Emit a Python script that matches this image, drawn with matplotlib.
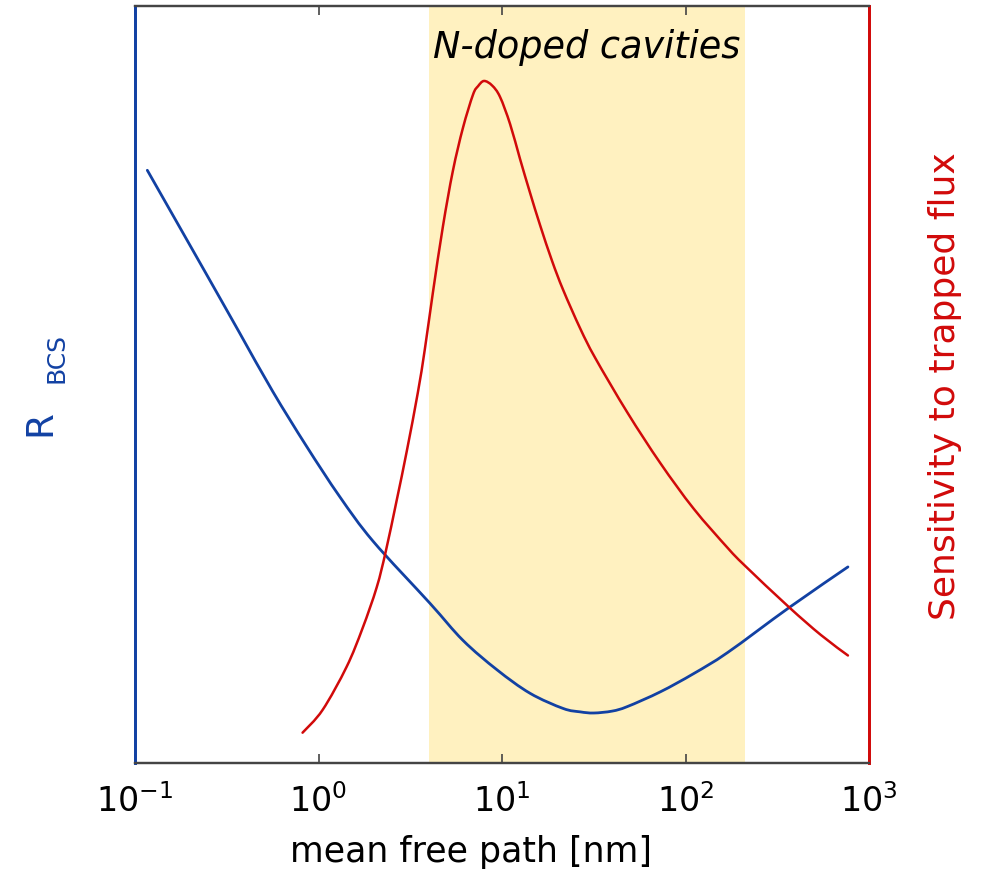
import matplotlib
matplotlib.use("Agg")
import matplotlib.pyplot as plt
from matplotlib.path import Path
from matplotlib.patches import PathPatch
import numpy as np

plt.rcParams['font.family'] = ['DejaVu Sans']
plt.rcParams['mathtext.fontset'] = 'dejavusans'

# Blue curve: R_BCS vs mean free path; x given as log10(mean free path / nm), y in arbitrary units (0-100)
blue_logx = [-0.933, -0.614, -0.432, -0.250, -0.067, 0.115, 0.297, 0.607, 0.787,
             0.973, 1.153, 1.333, 1.426, 1.500, 1.600, 1.683, 1.863, 2.044, 2.230,
             2.563, 2.885]
blue_y = [78.3, 64.7, 56.9, 49.1, 41.9, 35.2, 29.3, 21.1, 16.2,
          12.3, 9.2, 7.2, 6.75, 6.6, 6.85, 7.45, 9.4, 11.8, 14.6,
          20.5, 25.9]

# Red curve: sensitivity to trapped flux
red_logx = [-0.087, 0.022, 0.153, 0.240, 0.317, 0.366, 0.426, 0.481, 0.541, 0.579, 0.623,
            0.678, 0.732, 0.787, 0.842, 0.869, 0.902, 0.946, 0.989, 1.044, 1.098, 1.153,
            1.208, 1.273, 1.333, 1.426, 1.508, 1.683, 1.863, 2.044, 2.230, 2.322, 2.563,
            2.738, 2.885]
red_y = [4.0, 7.0, 12.7, 17.8, 23.2, 27.9, 34.7, 41.2, 48.9, 54.6, 62.1,
         70.9, 78.2, 83.9, 88.3, 89.4, 90.1, 89.5, 88.0, 84.4, 79.8, 75.3,
         71.0, 66.3, 62.5, 57.4, 53.5, 46.3, 39.6, 33.6, 28.4, 26.1, 20.6,
         16.9, 14.2]

band = (4.0, 210)
x_ticks = [0.1, 1, 10, 100, 1000]
x_ticklabels = [r'$10^{-1}$', r'$10^{0}$', r'$10^{1}$', r'$10^{2}$', r'$10^{3}$']

blue = '#1241a3'
red = '#d10a0a'
band_color = '#fff1c0'
gray = '#444444'


def smooth_path(logx, y):
    """Bezier path passing through every read point (Catmull-Rom tangents)."""
    P = np.column_stack([np.asarray(logx, float), np.asarray(y, float)])
    Pe = np.vstack([P[0], P, P[-1]])
    verts = [P[0]]
    codes = [Path.MOVETO]
    for i in range(len(P) - 1):
        p0, p1, p2, p3 = Pe[i], Pe[i + 1], Pe[i + 2], Pe[i + 3]
        c1 = p1 + (p2 - p0) / 6.0
        c2 = p2 - (p3 - p1) / 6.0
        verts += [c1, c2, p2]
        codes += [Path.CURVE4] * 3
    V = np.array(verts)
    V[:, 0] = 10 ** V[:, 0]
    return Path(V, codes)


fig = plt.figure(figsize=(9.95, 8.85), dpi=100)
ax = fig.add_axes([0.1357, 0.1379, 0.7377, 0.8553])
ax.set_xscale('log')
ax.set_xlim(0.1, 1000)
ax.set_ylim(0, 100)

ax.axvspan(band[0], band[1], color=band_color, lw=0, zorder=0)
ax.add_patch(PathPatch(smooth_path(blue_logx, blue_y), fill=False, edgecolor=blue,
                       lw=2, zorder=3, capstyle='round'))

ax2 = ax.twinx()
ax2.set_xscale('log')
ax2.set_xlim(0.1, 1000)
ax2.set_ylim(0, 100)
ax2.add_patch(PathPatch(smooth_path(red_logx, red_y), fill=False, edgecolor=red,
                        lw=1.8, zorder=3, capstyle='round'))

for a in (ax, ax2):
    a.set_yticks([])
    for s in ('top', 'bottom'):
        a.spines[s].set_color(gray)
        a.spines[s].set_linewidth(1.6)
    a.spines['left'].set_color(blue)
    a.spines['right'].set_color(red)
    a.spines['left'].set_linewidth(2)
    a.spines['right'].set_linewidth(2)

ax.set_xticks(x_ticks)
ax.set_xticklabels(x_ticklabels)
ax.xaxis.set_minor_locator(matplotlib.ticker.NullLocator())
ax.tick_params(axis='x', which='major', direction='in', top=True, bottom=True,
               length=6.5, width=1.2, color=gray, labelsize=24, pad=15)

ax.set_xlabel('mean free path [nm]', fontsize=25)
ax.xaxis.set_label_coords((471 - 135) / 734, -0.095)

ax.text(np.sqrt(band[0] * band[1]), 94.5, 'N-doped cavities', fontsize=26.4, style='italic',
        ha='center', va='center', color='black', zorder=5)

fig.text(40 / 995, 1 - 423 / 885, 'R', fontsize=27, color=blue, rotation=90,
         ha='center', va='center')
fig.text(56 / 995, 1 - 358 / 885, 'BCS', fontsize=18, color=blue, rotation=90,
         ha='center', va='center')
fig.text(945 / 995, 1 - 386 / 885, 'Sensitivity to trapped flux', fontsize=26, color=red,
         rotation=90, ha='center', va='center')

fig.savefig('out.png', dpi=100)
